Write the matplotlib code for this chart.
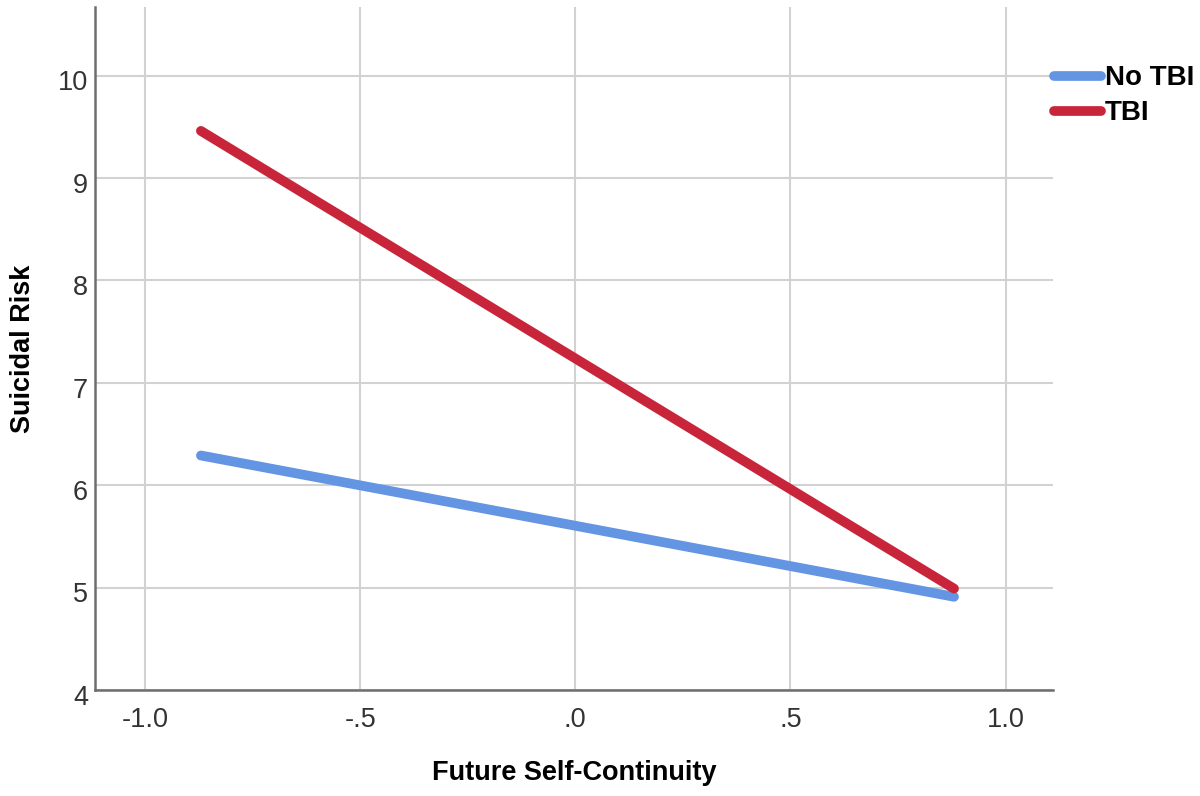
import matplotlib
matplotlib.use("Agg")
import matplotlib.pyplot as plt
import matplotlib.transforms as mtransforms

plt.rcParams["font.family"] = ["Liberation Sans", "DejaVu Sans"]

# simple slopes: predicted suicidal risk at low / high future self-continuity
fsc = [-0.87, 0.88]
no_tbi = [6.29, 4.91]
tbi = [9.46, 4.99]
labels = ["No TBI", "TBI"]
colors = ["#6495e3", "#c8253a"]

xticks = [-1.0, -0.5, 0.0, 0.5, 1.0]
xticklabels = ["-1.0", "-.5", ".0", ".5", "1.0"]
yticks = [4, 5, 6, 7, 8, 9, 10]

fig = plt.figure(figsize=(12, 7.96), dpi=100)
ax = fig.add_axes([0.0792, 0.1332, 0.7983, 0.858])

for ys, lab, c in zip([no_tbi, tbi], labels, colors):
    ax.plot(fsc, ys, color=c, lw=7, solid_capstyle="round", label=lab, zorder=3)

ax.set_xlim(-1.116, 1.11)
ax.set_ylim(4, 10.67)
ax.set_xticks(xticks)
ax.set_xticklabels(xticklabels)
ax.set_yticks(yticks)
ax.grid(True, color="#d2d2d2", lw=1.5)
ax.set_axisbelow(True)

for s in ["top", "right"]:
    ax.spines[s].set_visible(False)
for s in ["left", "bottom"]:
    ax.spines[s].set_color("#6e6e6e")
    ax.spines[s].set_linewidth(1.8)
ax.tick_params(length=0, labelsize=19.5, colors="#333333")
ax.tick_params(axis="x", pad=12)
ax.tick_params(axis="y", pad=5)

# SPSS puts the y labels a little below their grid line
shift = mtransforms.ScaledTranslation(0, -3.5 / 72, fig.dpi_scale_trans)
for t in ax.get_yticklabels():
    t.set_transform(t.get_transform() + shift)

ax.set_xlabel("Future Self-Continuity", fontsize=19.5, fontweight="bold", labelpad=20)
ax.set_ylabel("Suicidal Risk", fontsize=19.5, fontweight="bold", labelpad=16)

leg = fig.legend(loc="upper left", bbox_to_anchor=(0.878, 0.918), frameon=False,
                 borderpad=0, borderaxespad=0,
                 handlelength=1.7, handletextpad=0.15, labelspacing=0.33,
                 prop={"size": 20, "weight": "bold"})

fig.savefig("out.png", dpi=100)
